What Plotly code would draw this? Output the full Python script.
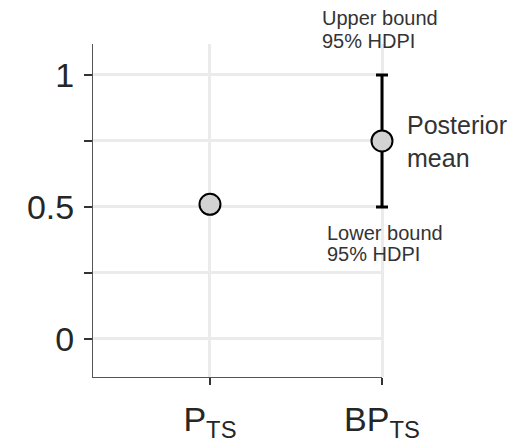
import plotly.graph_objects as go

# ---- data ----
categories = ["P<sub>TS</sub>", "BP<sub>TS</sub>"]
x_pos = [0, 1]
means = [0.51, 0.75]
hdpi_lower = [None, 0.5]
hdpi_upper = [None, 1.0]
y_ticks = [0, 0.25, 0.5, 0.75, 1]
y_tick_labels = ["0", "", "0.5", "", "1"]

FONT = "Liberation Sans"
TEXT = "#262626"
ANN = "#333333"

X_RANGE = [-0.68, 1.0]
Y_RANGE = [-0.144, 1.117]
ML, MR, MT, MB = 93, 110, 44, 68
W, H = 512, 445
PLOT_W = W - ML - MR            # full drawing area (incl. overhang for the error bar)
MAIN_W = 289                    # visible panel width
px_per_unit = MAIN_W / (X_RANGE[1] - X_RANGE[0])
X2_RANGE = [X_RANGE[0], X_RANGE[0] + PLOT_W / px_per_unit]

fig = go.Figure()

# P_TS point (main panel)
fig.add_trace(go.Scatter(
    x=[x_pos[0]], y=[means[0]], mode="markers",
    marker=dict(size=21, color="#d3d3d3", line=dict(color="black", width=2)),
    cliponaxis=False, showlegend=False, hoverinfo="skip",
    xaxis="x", yaxis="y",
))
# BP_TS posterior mean with 95% HDPI (overlay panel so it is not clipped at the edge)
err_plus = [hdpi_upper[1] - means[1]]
err_minus = [means[1] - hdpi_lower[1]]
fig.add_trace(go.Scatter(
    x=[x_pos[1]], y=[means[1]], mode="markers",
    marker=dict(size=21, color="#d3d3d3", line=dict(color="black", width=2)),
    error_y=dict(type="data", array=err_plus, arrayminus=err_minus,
                 color="black", thickness=3, width=6),
    cliponaxis=False, showlegend=False, hoverinfo="skip",
    xaxis="x2", yaxis="y2",
))

def ann(text, y_px, xshift, size=20):
    fig.add_annotation(
        x=x_pos[1], xref="x", y=(H - MB - y_px) / (H - MB - MT), yref="paper",
        text=text, showarrow=False, xanchor="left", yanchor="middle",
        align="left", xshift=xshift,
        font=dict(family=FONT, size=size, color=ANN))

ann("Upper bound", 18, -62)
ann("95% HDPI", 41, -62)
ann("Lower bound", 233, -57)
ann("95% HDPI", 254, -57)

fig.add_annotation(x=x_pos[1], y=means[1], xref="x", yref="y",
                   text="Posterior<br>mean", showarrow=False,
                   xanchor="left", yanchor="middle", align="left",
                   xshift=23, yshift=-1,
                   font=dict(family=FONT, size=25, color=ANN))

fig.update_layout(
    width=W, height=H,
    margin=dict(l=ML, r=MR, t=MT, b=MB, autoexpand=False),
    paper_bgcolor="white", plot_bgcolor="rgba(0,0,0,0)",
    font=dict(family=FONT, color=TEXT),
    xaxis=dict(
        domain=[0, MAIN_W / PLOT_W], anchor="y",
        range=X_RANGE, automargin=False,
        tickvals=x_pos, ticktext=categories,
        showgrid=True, gridcolor="#ebebeb", gridwidth=2.5,
        showline=True, linecolor="#555555", linewidth=1,
        ticks="outside", ticklen=7, tickwidth=2, tickcolor="#333333",
        tickfont=dict(family=FONT, size=34, color=TEXT),
        zeroline=False, ticklabelstandoff=5,
    ),
    yaxis=dict(
        domain=[0, 1], anchor="x",
        range=Y_RANGE, automargin=False,
        tickvals=y_ticks, ticktext=y_tick_labels,
        showgrid=True, gridcolor="#ebebeb", gridwidth=2.5,
        showline=True, linecolor="#555555", linewidth=1,
        ticks="outside", ticklen=8, tickwidth=2, tickcolor="#333333",
        tickfont=dict(family=FONT, size=34, color=TEXT),
        zeroline=False, ticklabelstandoff=3,
    ),
    xaxis2=dict(
        domain=[0, 1], anchor="y2", range=X2_RANGE, automargin=False,
        tickvals=[x_pos[1]], showticklabels=False, ticks="",
        showgrid=True, gridcolor="#ebebeb", gridwidth=2.5,
        showline=False, zeroline=False,
    ),
    yaxis2=dict(
        domain=[0, 1], anchor="x2", range=Y_RANGE, automargin=False,
        visible=False,
    ),
)

fig.write_html("out.html",
               config={"displayModeBar": False},
               post_script="document.body.style.margin='0px';document.body.style.overflow='hidden';")
